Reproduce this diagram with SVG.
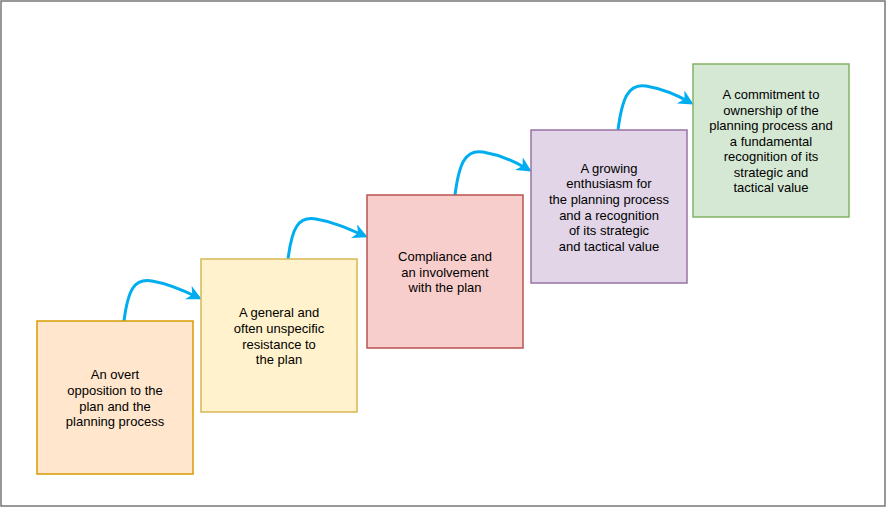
<svg xmlns="http://www.w3.org/2000/svg" width="887" height="508" viewBox="0 0 887 508">
<style>
text{font-family:"Liberation Sans",Arial,sans-serif;font-size:13px;fill:#000;text-anchor:middle}
.c{fill:none;stroke:#00aeef;stroke-width:3}
</style>
<defs><marker id="a" viewBox="0 0 10 10" refX="8" refY="5" markerWidth="5" markerHeight="5" orient="auto" markerUnits="strokeWidth"><path d="M0 0L10 5L0 10L3 5Z" fill="#00aeef"/></marker></defs>
<rect x="1" y="1" width="884" height="505" fill="#fff" stroke="#777" stroke-width="1.5"/>
<g id="connectors">
<path class="c" marker-end="url(#a)" d="M124 321C128 290 134 278 152 281C170 284 185 291 199 298"/>
<path class="c" marker-end="url(#a)" d="M288 259C292 228 298 216 316 219C334 222 349 229 365 236"/>
<path class="c" marker-end="url(#a)" d="M455 195C459 164 465 149 483 152C501 155 516 162 529 170"/>
<path class="c" marker-end="url(#a)" d="M618 130C622 99 628 83 646 86C664 89 679 96 691 103"/>
</g>
<g id="n1"><rect x="37" y="321" width="156" height="153" fill="#ffe6cc" stroke="#d79b00" stroke-width="1.5"/>
<text x="115" y="379">An overt</text><text x="115" y="395">opposition to the</text><text x="115" y="411">plan and the</text><text x="115" y="426">planning process</text></g>
<g id="n2"><rect x="201" y="259" width="156" height="153" fill="#fff2cc" stroke="#d6b656" stroke-width="1.5"/>
<text x="279" y="317">A general and</text><text x="279" y="333">often unspecific</text><text x="279" y="349">resistance to</text><text x="279" y="364">the plan</text></g>
<g id="n3"><rect x="367" y="195" width="156" height="153" fill="#f8cecc" stroke="#b85450" stroke-width="1.5"/>
<text x="445" y="261">Compliance and</text><text x="445" y="277">an involvement</text><text x="445" y="292">with the plan</text></g>
<g id="n4"><rect x="531" y="130" width="156" height="153" fill="#e1d5e7" stroke="#9673a6" stroke-width="1.5"/>
<text x="609" y="173">A growing</text><text x="609" y="188">enthusiasm for</text><text x="609" y="204">the planning process</text><text x="609" y="220">and a recognition</text><text x="609" y="235">of its strategic</text><text x="609" y="251">and tactical value</text></g>
<g id="n5"><rect x="693" y="64" width="156" height="153" fill="#d5e8d4" stroke="#82b366" stroke-width="1.5"/>
<text x="771" y="99">A commitment to</text><text x="771" y="115">ownership of the</text><text x="771" y="130">planning process and</text><text x="771" y="146">a fundamental</text><text x="771" y="161">recognition of its</text><text x="771" y="177">strategic and</text><text x="771" y="192">tactical value</text></g>
</svg>
